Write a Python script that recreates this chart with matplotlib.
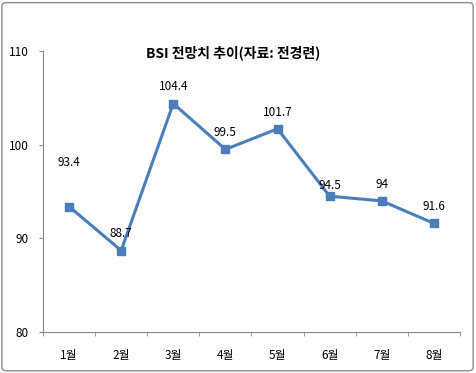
import matplotlib.pyplot as plt
from matplotlib.patches import FancyBboxPatch

plt.rcParams['font.family'] = ['Noto Sans CJK KR', 'DejaVu Sans']

months = ['1월', '2월', '3월', '4월', '5월', '6월', '7월', '8월']
bsi = [93.4, 88.7, 104.4, 99.5, 101.7, 94.5, 94, 91.6]
bsi_labels = ['93.4', '88.7', '104.4', '99.5', '101.7', '94.5', '94', '91.6']

fig = plt.figure(figsize=(4.76, 3.73), dpi=100)
ax = fig.add_axes([0.0903, 0.110, 0.876, 0.753])

x = list(range(len(months)))
ax.plot(x, bsi, color='#4A7EBB', linewidth=2.2, marker='s', markersize=5.5)

# label offsets (points above the marker), first/sixth were nudged in the original
label_dy = [32, 12, 12, 12, 12, 8, 12, 12]
for xi, yi, lab, dy in zip(x, bsi, bsi_labels, label_dy):
    ax.annotate(lab, (xi, yi), xytext=(0, dy), textcoords='offset points',
                ha='center', va='center', fontsize=8.5)

ax.set_xlim(-0.5, len(months) - 0.5)
ax.set_ylim(80, 110)
ax.set_yticks([80, 90, 100, 110])
ax.set_xticks(x)
ax.set_xticklabels(months, fontsize=8.5)
ax.set_xticks([i - 0.5 for i in range(len(months) + 1)], minor=True)
ax.tick_params(axis='x', which='major', length=0, pad=12)
ax.tick_params(axis='x', which='minor', length=3, color='#868686')
ax.tick_params(axis='y', length=3, color='#868686', labelsize=8.5, pad=7)

ax.spines['top'].set_visible(False)
ax.spines['right'].set_visible(False)
ax.spines['left'].set_color('#868686')
ax.spines['bottom'].set_color('#868686')

fig.text(0.49, 1 - 53 / 373, 'BSI 전망치 추이(자료: 전경련)', ha='center', va='center',
         fontsize=10, fontweight='bold')

border = FancyBboxPatch((0.004, 0.006), 0.99, 0.987, boxstyle='round,pad=0,rounding_size=0.01',
                        transform=fig.transFigure, fill=False, edgecolor='#8c8c8c', linewidth=1)
fig.patches.append(border)

fig.savefig('out.png', dpi=100)
